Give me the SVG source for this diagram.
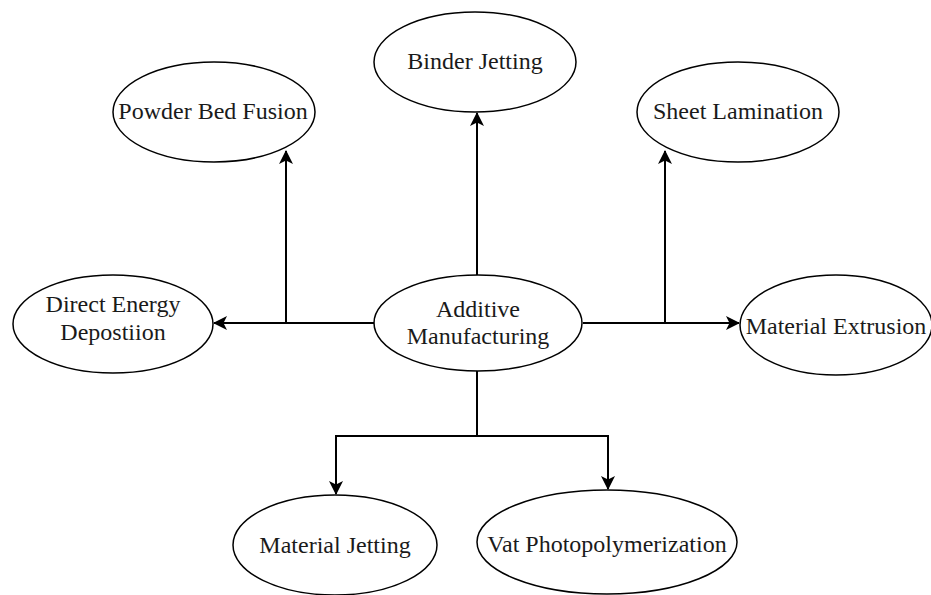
<svg xmlns="http://www.w3.org/2000/svg" width="931" height="595" viewBox="0 0 931 595">
<style>
.n ellipse{fill:#fff;stroke:#000;stroke-width:1.5}
.n text{font-size:24px;fill:#1a1a1a;text-anchor:middle}
.c path{fill:none;stroke:#000;stroke-width:2}
</style>
<defs>
<marker id="a" viewBox="0 0 14 14" refX="13" refY="7" markerWidth="14" markerHeight="14" markerUnits="userSpaceOnUse" orient="auto">
<path d="M0,0 L14,7 L0,14 L3.5,7 Z" fill="#000"/>
</marker>
</defs>
<rect width="931" height="595" fill="#fff"/>
<g class="c">
<path d="M477,275 V113" marker-end="url(#a)"/>
<path d="M375,323 H214" marker-end="url(#a)"/>
<path d="M286,323 V151" marker-end="url(#a)"/>
<path d="M583,323 H739" marker-end="url(#a)"/>
<path d="M665,323 V151" marker-end="url(#a)"/>
<path d="M477,371 V436 H336 V494" marker-end="url(#a)"/>
<path d="M477,436 H608 V489" marker-end="url(#a)"/>
</g>
<g font-family="Liberation Serif, DejaVu Serif, serif">
<g id="additive" class="n"><ellipse cx="478" cy="323" rx="104" ry="48"/><text x="478" y="317">Additive</text><text x="478" y="344">Manufacturing</text></g>
<g id="binder" class="n"><ellipse cx="475" cy="62" rx="101" ry="50"/><text x="475" y="69">Binder Jetting</text></g>
<g id="powder" class="n"><ellipse cx="214" cy="112" rx="101" ry="50"/><text x="213" y="119">Powder Bed Fusion</text></g>
<g id="sheet" class="n"><ellipse cx="738" cy="112" rx="101" ry="50"/><text x="738" y="119">Sheet Lamination</text></g>
<g id="ded" class="n"><ellipse cx="113" cy="324" rx="100" ry="49"/><text x="113" y="312">Direct Energy</text><text x="113" y="340">Depostiion</text></g>
<g id="extrusion" class="n"><ellipse cx="836" cy="325" rx="96" ry="50"/><text x="836" y="334">Material Extrusion</text></g>
<g id="mjet" class="n"><ellipse cx="335" cy="545" rx="102" ry="50"/><text x="335" y="553">Material Jetting</text></g>
<g id="vat" class="n"><ellipse cx="607" cy="542" rx="130" ry="52"/><text x="607" y="552">Vat Photopolymerization</text></g>
</g>
</svg>
